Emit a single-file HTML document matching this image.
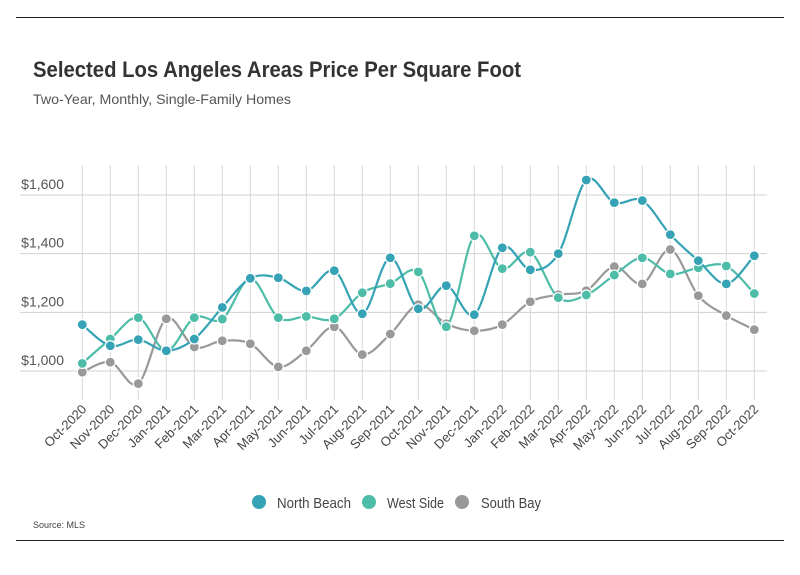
<!DOCTYPE html>
<html><head><meta charset="utf-8"><style>
body{margin:0;background:#fff;font-family:"Liberation Sans",sans-serif;}
#wrap{position:relative;width:800px;height:575px;overflow:hidden;}
</style></head><body>
<div id="wrap">
<svg id="chart" width="800" height="575">
<line x1="16" y1="17.5" x2="784" y2="17.5" stroke="#222" stroke-width="1"/>
<text x="33" y="77" font-size="22" font-weight="bold" fill="#333" textLength="488" lengthAdjust="spacingAndGlyphs">Selected Los Angeles Areas Price Per Square Foot</text>
<text x="33" y="104" font-size="14" fill="#555" textLength="258" lengthAdjust="spacingAndGlyphs">Two-Year, Monthly, Single-Family Homes</text>
<g id="grid"></g><g id="series"></g><g id="xlabels"></g>
<g>
<circle cx="259" cy="502" r="7" fill="#35a3b5"/>
<text x="277" y="508" font-size="15" fill="#444" textLength="74" lengthAdjust="spacingAndGlyphs">North Beach</text>
<circle cx="369" cy="502" r="7" fill="#4dbca8"/>
<text x="387" y="508" font-size="15" fill="#444" textLength="57" lengthAdjust="spacingAndGlyphs">West Side</text>
<circle cx="462" cy="502" r="7" fill="#999"/>
<text x="481" y="508" font-size="15" fill="#444" textLength="60" lengthAdjust="spacingAndGlyphs">South Bay</text>
</g>
<text x="33" y="528" font-size="9" fill="#444">Source:  MLS</text>
<line x1="16" y1="540.5" x2="784" y2="540.5" stroke="#222" stroke-width="1"/>
</svg>
</div>
<script>
const categories=["Oct-2020","Nov-2020","Dec-2020","Jan-2021","Feb-2021","Mar-2021","Apr-2021","May-2021","Jun-2021","Jul-2021","Aug-2021","Sep-2021","Oct-2021","Nov-2021","Dec-2021","Jan-2022","Feb-2022","Mar-2022","Apr-2022","May-2022","Jun-2022","Jul-2022","Aug-2022","Sep-2022","Oct-2022"];
const northBeach=[1158,1086,1107,1069,1109,1217,1316,1318,1273,1342,1195,1386,1212,1291,1192,1420,1345,1400,1651,1574,1581,1465,1376,1297,1393];
const westSide=[1026,1109,1182,1069,1182,1177,1315,1182,1186,1178,1267,1298,1338,1151,1461,1349,1405,1250,1259,1327,1386,1331,1352,1358,1264];
const southBay=[996,1030,957,1178,1082,1103,1093,1014,1069,1151,1056,1126,1226,1161,1137,1158,1236,1260,1274,1356,1297,1414,1257,1189,1141];
const yTicks=[1000,1200,1400,1600];
const yTickLabels=["$1,000","$1,200","$1,400","$1,600"];
const NS="http://www.w3.org/2000/svg";
function xS(i){return 82.3+i*28;}
function yS(v){return 371-(v-1000)*(58.67/200);}
function mk(t,a,p){const e=document.createElementNS(NS,t);for(const k in a)e.setAttribute(k,a[k]);p.appendChild(e);return e;}
const grid=document.getElementById('grid');
yTicks.forEach((v,i)=>{
 const l=mk('line',{x1:20,x2:767,y1:yS(v),y2:yS(v),stroke:'#d0d0d0','stroke-width':1},grid);
 
 
 const t=mk('text',{x:64,y:yS(v)-6,'font-size':14,fill:'#555','text-anchor':'end'},grid);
 t.textContent=yTickLabels[i];
 
 
});
const xl=document.getElementById('xlabels');
categories.forEach((c,i)=>{
 const l=mk('line',{x1:xS(i),x2:xS(i),y1:165,y2:400,stroke:'#d8d8d8','stroke-width':1},grid);
 
 
 const t=mk('text',{x:xS(i)+5,y:410,'font-size':13,fill:'#444','text-anchor':'end',transform:`rotate(-45 ${xS(i)+5} 410)`},xl);
 t.textContent=c;
 
 
});
function path(vals){
 const p=vals.map((v,i)=>[xS(i),yS(v)]);
 let d=`M${p[0][0]},${p[0][1]}`;
 for(let i=0;i<p.length-1;i++){
  const p0=p[Math.max(0,i-1)],p1=p[i],p2=p[i+1],p3=p[Math.min(p.length-1,i+2)];
  const k=1/6;
  d+=` C${p1[0]+(p2[0]-p0[0])*k},${p1[1]+(p2[1]-p0[1])*k} ${p2[0]-(p3[0]-p1[0])*k},${p2[1]-(p3[1]-p1[1])*k} ${p2[0]},${p2[1]}`;
 }
 return d;
}
const sg=document.getElementById('series');
[[southBay,'#999','south-bay'],[westSide,'#4dbca8','west-side'],[northBeach,'#35a3b5','north-beach']].forEach(([vals,col,nm])=>{
 const g=mk('g',{},sg);
 
 
 const pa=mk('path',{d:path(vals),fill:'none',stroke:col,'stroke-width':2.2},g);
 
 
 vals.forEach((v,i)=>{
  const c=mk('circle',{cx:xS(i),cy:yS(v),r:5,fill:col,stroke:'#fff','stroke-width':1.2},g);
  
  
 });
});
</script>
</body></html>
